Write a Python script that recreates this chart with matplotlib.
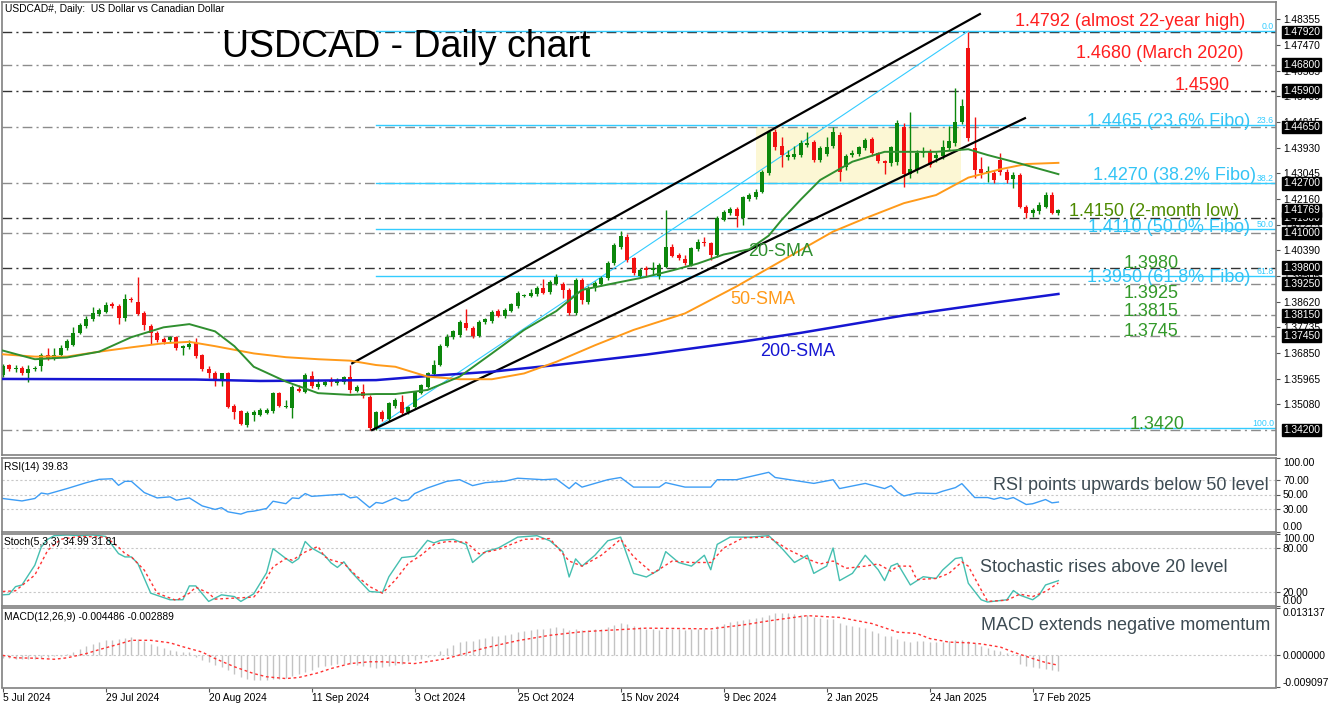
import numpy as np
import matplotlib
matplotlib.use("Agg")
import matplotlib.pyplot as plt

plt.rcParams['font.family'] = ['Liberation Sans', 'DejaVu Sans']

# ---- daily candles, 5 Jul 2024 .. 21 Feb 2025 (bar index = trading day) ----
opens = [
    1.3610, 1.3643, 1.3629, 1.3635, 1.3616, 1.3630, 1.3640, 1.3680, 1.3666, 1.3678,
    1.3701, 1.3712, 1.3755, 1.3777, 1.3801, 1.3819, 1.3827, 1.3853, 1.3847, 1.3805,
    1.3873, 1.3862, 1.3822, 1.3779, 1.3755, 1.3732, 1.3730, 1.3739, 1.3701, 1.3707,
    1.3721, 1.3678, 1.3632, 1.3617, 1.3594, 1.3615, 1.3502, 1.3486, 1.3436, 1.3473,
    1.3473, 1.3479, 1.3485, 1.3546, 1.3500, 1.3497, 1.3561, 1.3552, 1.3606, 1.3567,
    1.3575, 1.3592, 1.3581, 1.3586, 1.3601, 1.3555, 1.3552, 1.3535, 1.3426, 1.3481,
    1.3458, 1.3502, 1.3518, 1.3483, 1.3498, 1.3548, 1.3569, 1.3613, 1.3644, 1.3710,
    1.3740, 1.3747, 1.3790, 1.3773, 1.3744, 1.3793, 1.3795, 1.3830, 1.3812, 1.3831,
    1.3847, 1.3882, 1.3882, 1.3888, 1.3910, 1.3897, 1.3925, 1.3925, 1.3902, 1.3822,
    1.3937, 1.3862, 1.3908, 1.3922, 1.3943, 1.3994, 1.4052, 1.4086, 1.4012, 1.3951,
    1.3977, 1.3971, 1.3951, 1.3983, 1.4050, 1.4023, 1.4009, 1.3989, 1.4043, 1.4069,
    1.4063, 1.4023, 1.4144, 1.4167, 1.4181, 1.4150, 1.4215, 1.4224, 1.4241, 1.4307,
    1.4448, 1.4399, 1.4362, 1.4362, 1.4368, 1.4402, 1.4414, 1.4351, 1.4372, 1.4399,
    1.4437, 1.4325, 1.4368, 1.4372, 1.4391, 1.4422, 1.4374, 1.4348, 1.4339, 1.4345,
    1.4463, 1.4303, 1.4316, 1.4374, 1.4380, 1.4356, 1.4364, 1.4391, 1.4408, 1.4483,
    1.4736, 1.4391, 1.4319, 1.4305, 1.4305, 1.4351, 1.4311, 1.4285, 1.4299, 1.4190,
    1.4167, 1.4176, 1.4190, 1.4230, 1.4169]
highs = [
    1.3648, 1.3647, 1.3644, 1.3640, 1.3644, 1.3640, 1.3686, 1.3704, 1.3701, 1.3712,
    1.3735, 1.3775, 1.3790, 1.3812, 1.3844, 1.3842, 1.3862, 1.3860, 1.3853, 1.3888,
    1.3880, 1.3946, 1.3830, 1.3784, 1.3760, 1.3740, 1.3745, 1.3745, 1.3714, 1.3730,
    1.3736, 1.3682, 1.3640, 1.3622, 1.3618, 1.3620, 1.3510, 1.3490, 1.3484, 1.3490,
    1.3497, 1.3497, 1.3552, 1.3552, 1.3525, 1.3575, 1.3575, 1.3615, 1.3625, 1.3596,
    1.3592, 1.3603, 1.3600, 1.3606, 1.3644, 1.3575, 1.3578, 1.3540, 1.3486, 1.3490,
    1.3516, 1.3530, 1.3540, 1.3503, 1.3555, 1.3580, 1.3620, 1.3660, 1.3715, 1.3752,
    1.3766, 1.3800, 1.3836, 1.3780, 1.3798, 1.3806, 1.3834, 1.3838, 1.3840, 1.3858,
    1.3899, 1.3890, 1.3906, 1.3916, 1.3939, 1.3936, 1.3958, 1.3930, 1.3908, 1.3945,
    1.3945, 1.3915, 1.3932, 1.3950, 1.4003, 1.4065, 1.4106, 1.4095, 1.4018, 1.3978,
    1.3985, 1.4000, 1.3995, 1.4178, 1.4060, 1.4030, 1.4025, 1.4052, 1.4080, 1.4085,
    1.4068, 1.4158, 1.4180, 1.4188, 1.4190, 1.4228, 1.4238, 1.4250, 1.4318, 1.4455,
    1.4456, 1.4430, 1.4385, 1.4400, 1.4420, 1.4448, 1.4420, 1.4400, 1.4430, 1.4466,
    1.4447, 1.4370, 1.4385, 1.4400, 1.4428, 1.4430, 1.4380, 1.4352, 1.4400, 1.4490,
    1.4480, 1.4517, 1.4385, 1.4395, 1.4388, 1.4380, 1.4420, 1.4468, 1.4598, 1.4560,
    1.4793, 1.4500, 1.4360, 1.4330, 1.4315, 1.4375, 1.4320, 1.4310, 1.4305, 1.4195,
    1.4185, 1.4205, 1.4240, 1.4240, 1.4182]
lows = [
    1.3604, 1.3622, 1.3620, 1.3609, 1.3587, 1.3622, 1.3623, 1.3661, 1.3660, 1.3672,
    1.3697, 1.3708, 1.3750, 1.3772, 1.3797, 1.3812, 1.3822, 1.3840, 1.3784, 1.3796,
    1.3862, 1.3815, 1.3765, 1.3718, 1.3722, 1.3715, 1.3722, 1.3695, 1.3680, 1.3700,
    1.3668, 1.3622, 1.3598, 1.3571, 1.3571, 1.3495, 1.3457, 1.3437, 1.3432, 1.3452,
    1.3468, 1.3475, 1.3480, 1.3498, 1.3496, 1.3461, 1.3552, 1.3546, 1.3565, 1.3561,
    1.3570, 1.3570, 1.3575, 1.3580, 1.3546, 1.3550, 1.3530, 1.3420, 1.3421, 1.3452,
    1.3450, 1.3497, 1.3470, 1.3475, 1.3493, 1.3543, 1.3565, 1.3608, 1.3640, 1.3705,
    1.3733, 1.3742, 1.3765, 1.3738, 1.3740, 1.3785, 1.3790, 1.3808, 1.3806, 1.3826,
    1.3842, 1.3877, 1.3878, 1.3883, 1.3888, 1.3890, 1.3920, 1.3874, 1.3815, 1.3815,
    1.3855, 1.3855, 1.3900, 1.3915, 1.3938, 1.3988, 1.4045, 1.4000, 1.3955, 1.3945,
    1.3950, 1.3955, 1.3940, 1.3978, 1.4015, 1.4005, 1.3990, 1.3985, 1.4038, 1.4055,
    1.4005, 1.4018, 1.4140, 1.4160, 1.4121, 1.4127, 1.4208, 1.4218, 1.4236, 1.4300,
    1.4385, 1.4325, 1.4350, 1.4355, 1.4362, 1.4395, 1.4345, 1.4345, 1.4365, 1.4392,
    1.4279, 1.4318, 1.4360, 1.4365, 1.4385, 1.4365, 1.4340, 1.4303, 1.4330, 1.4335,
    1.4259, 1.4290, 1.4305, 1.4360, 1.4325, 1.4345, 1.4355, 1.4385, 1.4400, 1.4475,
    1.4415, 1.4290, 1.4290, 1.4275, 1.4270, 1.4300, 1.4270, 1.4253, 1.4185, 1.4150,
    1.4155, 1.4165, 1.4185, 1.4165, 1.4160]
closes = [
    1.3641, 1.3629, 1.3635, 1.3616, 1.3631, 1.3633, 1.3680, 1.3666, 1.3680, 1.3703,
    1.3726, 1.3756, 1.3781, 1.3804, 1.3822, 1.3835, 1.3850, 1.3847, 1.3805, 1.3870,
    1.3867, 1.3820, 1.3782, 1.3756, 1.3730, 1.3724, 1.3739, 1.3701, 1.3709, 1.3718,
    1.3674, 1.3629, 1.3615, 1.3594, 1.3615, 1.3500, 1.3483, 1.3439, 1.3479, 1.3483,
    1.3488, 1.3488, 1.3546, 1.3503, 1.3503, 1.3569, 1.3555, 1.3610, 1.3571, 1.3578,
    1.3586, 1.3584, 1.3594, 1.3601, 1.3558, 1.3569, 1.3537, 1.3426, 1.3481, 1.3458,
    1.3512, 1.3523, 1.3480, 1.3498, 1.3550, 1.3575, 1.3615, 1.3644, 1.3710, 1.3740,
    1.3761, 1.3793, 1.3771, 1.3744, 1.3793, 1.3801, 1.3828, 1.3814, 1.3834, 1.3853,
    1.3893, 1.3885, 1.3891, 1.3910, 1.3894, 1.3931, 1.3948, 1.3902, 1.3822, 1.3937,
    1.3868, 1.3908, 1.3926, 1.3943, 1.3997, 1.4058, 1.4089, 1.4006, 1.3960, 1.3971,
    1.3971, 1.3979, 1.3989, 1.4052, 1.4020, 1.4012, 1.3996, 1.4046, 1.4069, 1.4064,
    1.4023, 1.4150, 1.4173, 1.4181, 1.4158, 1.4222, 1.4230, 1.4241, 1.4310, 1.4448,
    1.4394, 1.4368, 1.4368, 1.4370, 1.4408, 1.4410, 1.4351, 1.4391, 1.4394, 1.4448,
    1.4310, 1.4365, 1.4376, 1.4394, 1.4420, 1.4374, 1.4348, 1.4339, 1.4394, 1.4477,
    1.4303, 1.4319, 1.4374, 1.4380, 1.4333, 1.4367, 1.4396, 1.4417, 1.4483, 1.4537,
    1.4425, 1.4316, 1.4305, 1.4312, 1.4282, 1.4311, 1.4282, 1.4300, 1.4190, 1.4167,
    1.4178, 1.4196, 1.4230, 1.4169, 1.4177]

# moving averages (bar, price)
sma20 = [(0, 1.3694), (5, 1.3664), (10, 1.3670), (15, 1.3690), (20, 1.3740), (25, 1.3774),
         (29, 1.3785), (33, 1.3760), (36, 1.3709), (39, 1.3638), (44, 1.3587), (49, 1.3547),
         (54, 1.3541), (58, 1.3544), (61, 1.3544), (66, 1.3558), (71, 1.3604), (76, 1.3684),
         (81, 1.3765), (86, 1.3830), (90, 1.3903), (95, 1.3926), (100, 1.3948), (104, 1.3970),
         (108, 1.3994), (112, 1.4025), (116, 1.4043), (119, 1.4090), (121, 1.4144),
         (124, 1.4215), (127, 1.4282), (132, 1.4345), (137, 1.4379), (145, 1.4379),
         (150, 1.4388), (153, 1.4368), (158, 1.4339), (164, 1.4302)]
sma50 = [(0, 1.3681), (5, 1.3673), (10, 1.3673), (15, 1.3690), (20, 1.3705), (25, 1.3719),
         (29, 1.3724), (33, 1.3709), (39, 1.3684), (44, 1.3671), (49, 1.3664), (54, 1.3659),
         (58, 1.3644), (61, 1.3638), (66, 1.3604), (71, 1.3595), (76, 1.3595), (81, 1.3615),
         (86, 1.3655), (92, 1.3712), (98, 1.3765), (106, 1.3822), (114, 1.3915),
         (129, 1.4104), (134, 1.4150), (140, 1.4202), (145, 1.4230), (150, 1.4290),
         (155, 1.4319), (159, 1.4337), (164, 1.4341)]
sma200 = [(0, 1.3596), (30, 1.3594), (40, 1.3589), (58, 1.3592), (66, 1.3606), (76, 1.3621),
          (86, 1.3644), (100, 1.3680), (115, 1.3725), (124, 1.3755), (140, 1.3815),
          (155, 1.3862), (164, 1.3889)]

# key levels (gray dash-dot lines, boxed on the price scale)
levels = [1.4792, 1.4680, 1.4590, 1.4465, 1.4270, 1.4150, 1.4100, 1.3980, 1.3925,
          1.3815, 1.3745, 1.3420]
dark_levels = [1.4792, 1.4590, 1.4150, 1.3980]
last_price = 1.41769
price_ticks = [1.48355, 1.47470, 1.46585, 1.45700, 1.44815, 1.43930, 1.43045, 1.42160,
               1.41275, 1.40390, 1.39505, 1.38620, 1.37735, 1.36850, 1.35965, 1.35080]

# fibonacci swing (low bar, low) -> (high bar, high)
fib_low = (58, 1.3428)
fib_high = (150, 1.4795)
fib_ratios = [0.0, 23.6, 38.2, 50.0, 61.8, 100.0]

# channel lines and consolidation box (bar, price)
chan_upper = [(54.3, 1.3650), (151.8, 1.4854)]
chan_lower = [(57.4, 1.3420), (158.8, 1.4495)]
box_bars = (117.0, 148.9)
box_prices = (1.4270, 1.4465)

# indicators (bar, value)
rsi = [(0, 44.6), (3, 41.3), (5, 44.6), (6, 52), (7, 50.6), (10, 58), (13, 66), (15, 70.5),
       (17, 71.3), (18, 62.4), (19, 67.8), (20, 67.8), (22, 52.6), (24, 45.4), (26, 46.8),
       (27, 42.3), (29, 45.4), (31, 34.6), (33, 29.8), (34, 32.2), (35, 26.6), (37, 23.5),
       (38, 26.6), (39, 27.5), (41, 31.1), (42, 40.9), (44, 37.6), (45, 45.4), (46, 44.6),
       (47, 51.3), (48, 47.5), (51, 49.3), (53, 50.5), (54, 45.4), (55, 46.8), (57, 32.4),
       (58, 39.2), (59, 38), (61, 45.4), (62, 41.3), (63, 42.8), (64, 51.3), (66, 58.8),
       (69, 67.8), (71, 70), (73, 62), (75, 66), (78, 68), (80, 72), (84, 70), (86, 71),
       (88, 58), (89, 66), (90, 60), (94, 70), (96, 73), (98, 60), (102, 60), (103, 66),
       (106, 60), (110, 60), (111, 70), (114, 70), (119, 80), (120, 73), (126, 65),
       (129, 70), (130, 58), (134, 65), (137, 58), (138, 62), (139, 53.4), (140, 48),
       (142, 52), (145, 51.3), (146, 54.4), (148, 59.3), (149, 64.7), (151, 45.9),
       (153, 45.9), (154, 43.6), (155, 45.9), (156, 43.6), (157, 45.9), (159, 36.5),
       (160, 37.5), (162, 43.2), (163, 38.7), (164, 39.8)]
stoch_k = [(0, 15.4), (1, 16), (2, 26.7), (3, 29), (4, 42.7), (5, 56.3), (6, 81.3), (7, 92),
           (8, 97), (10, 98), (12, 97), (14, 98), (16, 96), (18, 72.3), (19, 67.7), (20, 67.7),
           (21, 58.7), (23, 17.7), (26, 8.6), (28, 8.6), (29, 27.7), (30, 27.7), (32, 6.3),
           (34, 15.4), (36, 13), (37, 6.3), (39, 16.8), (41, 45.8), (42, 79.1), (44, 65.5),
           (45, 59.5), (46, 65.5), (47, 89), (48, 80), (50, 70), (51, 59.5), (52, 53.2),
           (53, 61), (54, 48.6), (57, 20), (59, 18.6), (60, 40.4), (62, 66.8), (64, 68.7),
           (66, 90.5), (67, 87), (68, 90.5), (70, 92), (72, 85), (73, 60), (75, 75), (77, 80),
           (80, 95), (83, 97), (85, 90), (87, 75), (88, 40), (89, 65), (90, 55), (92, 70),
           (94, 90), (96, 95), (97, 70), (98, 45), (100, 40), (102, 50), (103, 75), (105, 60),
           (107, 55), (109, 70), (110, 50), (111, 85), (113, 95), (116, 95), (119, 97),
           (121, 80), (123, 60), (125, 70), (126, 45), (128, 55), (129, 80), (130, 35),
           (132, 45), (134, 70), (136, 50), (137, 35), (138, 55), (139, 58.7), (141, 29),
           (143, 40.4), (145, 38), (146, 49.5), (148, 65.5), (149, 67), (150, 31.4),
           (152, 8.6), (153, 5.5), (156, 8.6), (157, 21.3), (158, 15), (160, 8.6),
           (161, 15), (162, 29), (164, 34.99)]
stoch_d = [(0, 20), (2, 21), (5, 42.7), (7, 76.8), (9, 92), (12, 96), (16, 95), (18, 81.3),
           (19, 72.3), (20, 67.7), (22, 49.5), (24, 17.7), (27, 7.6), (29, 17.7), (30, 25.9),
           (32, 17.7), (33, 9.5), (36, 10.9), (39, 12.3), (40, 22.3), (42, 54), (44, 65.5),
           (45, 63.2), (47, 74.5), (49, 82.2), (50, 68.2), (51, 63.6), (53, 58.7), (55, 41.3),
           (57, 26.8), (59, 17.7), (61, 35.8), (63, 58.7), (65, 70), (67, 85), (69, 89),
           (72, 88), (74, 72), (77, 78), (81, 92), (85, 93), (88, 62), (90, 55), (93, 70),
           (96, 92), (98, 68), (101, 45), (104, 62), (107, 60), (110, 60), (112, 80),
           (115, 94), (119, 95), (122, 78), (125, 65), (127, 58), (129, 62), (131, 52),
           (134, 55), (136, 58), (138, 48), (139, 55), (141, 55), (142, 36.4), (145, 38),
           (147, 45), (149, 60.8), (150, 55), (152, 22.3), (153, 6.4), (156, 8), (158, 16.3),
           (160, 13), (162, 20), (164, 31.81)]
macd_main = [
    -0.0008, -0.0009, -0.0010, -0.0010, -0.0011, -0.0010, -0.0008, -0.0006, -0.0004, -0.0002,
    0.0002, 0.0008, 0.0016, 0.0024, 0.0030, 0.0036, 0.0041, 0.0043, 0.0046, 0.0048,
    0.0049, 0.0044, 0.0038, 0.0031, 0.0025, 0.0020, 0.0014, 0.0011, 0.0009, 0.0007,
    -0.0005, -0.0014, -0.0020, -0.0027, -0.0033, -0.0043, -0.0053, -0.0063, -0.0068, -0.0070,
    -0.0071, -0.0070, -0.0068, -0.0066, -0.0064, -0.0060, -0.0054, -0.0048, -0.0041, -0.0034,
    -0.0030, -0.0028, -0.0026, -0.0025, -0.0024, -0.0027, -0.0031, -0.0035, -0.0036, -0.0034,
    -0.0031, -0.0028, -0.0024, -0.0017, -0.0013, -0.0010, -0.0007, -0.0002, 0.0010, 0.0020,
    0.0028, 0.0036, 0.0040, 0.0040, 0.0045, 0.0048, 0.0052, 0.0054, 0.0057, 0.0060,
    0.0065, 0.0068, 0.0071, 0.0073, 0.0074, 0.0076, 0.0078, 0.0076, 0.0070, 0.0072,
    0.0070, 0.0071, 0.0072, 0.0074, 0.0078, 0.0084, 0.0089, 0.0086, 0.0080, 0.0077,
    0.0074, 0.0072, 0.0071, 0.0074, 0.0074, 0.0073, 0.0071, 0.0072, 0.0073, 0.0073,
    0.0071, 0.0080, 0.0086, 0.0091, 0.0094, 0.0098, 0.0101, 0.0104, 0.0107, 0.0112,
    0.0117, 0.0118, 0.0117, 0.0115, 0.0113, 0.0111, 0.0107, 0.0104, 0.0101, 0.0100,
    0.0090, 0.0085, 0.0080, 0.0077, 0.0075, 0.0068, 0.0061, 0.0054, 0.0054, 0.0046,
    0.0038, 0.0037, 0.0038, 0.0039, 0.0036, 0.0035, 0.0036, 0.0038, 0.0042, 0.0043,
    0.0040, 0.0033, 0.0026, 0.0019, 0.0013, 0.0010, 0.0006, 0.0004, -0.0024, -0.0031,
    -0.0035, -0.0037, -0.0039, -0.0042, -0.004486]
macd_signal = [(0, -0.0001), (2, -0.0008), (5, -0.0009), (8, -0.0012), (10, -0.0008),
               (13, 0.0004), (15, 0.0015), (18, 0.0030), (20, 0.0041), (23, 0.0041),
               (26, 0.0034), (28, 0.0023), (31, 0.0008), (33, -0.0010), (36, -0.0033),
               (39, -0.0052), (41, -0.0061), (44, -0.0066), (46, -0.0063), (49, -0.0050),
               (51, -0.0038), (54, -0.0024), (57, -0.0019), (59, -0.0019), (62, -0.0022),
               (64, -0.0024), (67, -0.0016), (69, -0.0010), (72, 0.0005), (75, 0.0020),
               (80, 0.0040), (85, 0.0055), (90, 0.0065), (95, 0.0070), (100, 0.0075),
               (105, 0.0074), (110, 0.0073), (115, 0.0084), (120, 0.0098), (125, 0.0110),
               (130, 0.0105), (135, 0.0088), (139, 0.0064), (142, 0.0060), (144, 0.0046),
               (147, 0.0036), (150, 0.0034), (152, 0.0031), (155, 0.0022), (157, 0.0008),
               (160, -0.0010), (162, -0.0021), (164, -0.002889)]

date_bars = [0, 16, 32, 48, 64, 80, 96, 112, 128, 144, 160]
date_labels = ["5 Jul 2024", "29 Jul 2024", "20 Aug 2024", "11 Sep 2024", "3 Oct 2024",
               "25 Oct 2024", "15 Nov 2024", "9 Dec 2024", "2 Jan 2025", "24 Jan 2025",
               "17 Feb 2025"]

# ---------------------------------------------------------------------------
W, H = 1332, 706
fig = plt.figure(figsize=(W / 100, H / 100), dpi=100)


def box(x0, y0, x1, y1):
    return [x0 / W, 1 - y1 / H, (x1 - x0) / W, (y1 - y0) / H]


def ftxt(x, y, s, **kw):
    kw.setdefault('va', 'center')
    fig.text(x / W, 1 - y / H, s, **kw)


GREEN = '#0c870c'
RED = '#f21111'
FRAME = '#808080'
XLIM = (-0.1, 197.8)

ax = fig.add_axes(box(2, 2, 1276, 455))
ax_rsi = fig.add_axes(box(2, 457.5, 1276, 531.5))
ax_st = fig.add_axes(box(2, 533.5, 1276, 606))
ax_md = fig.add_axes(box(2, 608, 1276, 687.5))

for a in (ax, ax_rsi, ax_st, ax_md):
    a.set_xlim(*XLIM)
    for sp in a.spines.values():
        sp.set_color(FRAME)
        sp.set_linewidth(1.2)
    a.yaxis.tick_right()
    a.tick_params(axis='y', direction='out', length=3, width=0.8, color='#555555',
                  labelsize=7.4, pad=2, labelcolor='black')
    a.tick_params(axis='x', bottom=False, labelbottom=False)

# ---- main price panel ----
ax.set_ylim(1.33338, 1.48955)

ax.add_patch(plt.Rectangle((box_bars[0], box_prices[0]), box_bars[1] - box_bars[0],
                           box_prices[1] - box_prices[0], facecolor='#fcf7d4',
                           edgecolor='none', zorder=0))

for lv in levels:
    ax.axhline(lv, color='#333333' if lv in dark_levels else '#8c8c8c', lw=1,
               linestyle=(0, (7, 3, 1.5, 3)), zorder=1)

fib_span = fib_high[1] - fib_low[1]
for r in fib_ratios:
    p = fib_high[1] - r / 100 * fib_span
    ax.plot([fib_low[0], XLIM[1]], [p, p], color='#33ccff', lw=1, zorder=1.5)
    ax.text(XLIM[1] - 0.3, p, f"{r:.1f}", color='#33ccff', fontsize=6.3,
            ha='right', va='bottom', zorder=5)
ax.plot([fib_low[0], fib_high[0]], [fib_low[1], fib_high[1]], color='#33ccff', lw=0.8,
        zorder=1.5)

for ln in (chan_upper, chan_lower):
    xs, ys = zip(*ln)
    ax.plot(xs, ys, color='black', lw=1.6, zorder=3)

idx = np.arange(len(opens))
o = np.array(opens)
c = np.array(closes)
col = np.where(c >= o, GREEN, RED)
ax.vlines(idx, lows, highs, colors=col, lw=1, zorder=2)
ax.bar(idx, np.maximum(np.abs(c - o), 0.00012), bottom=np.minimum(o, c), width=0.62,
       color=col, linewidth=0, zorder=2.5)

for pts, colr, lw in ((sma200, '#1616d2', 1.8), (sma50, '#ff9a1a', 1.4),
                      (sma20, '#2f8f2f', 1.4)):
    xs, ys = zip(*pts)
    ax.plot(xs, ys, color=colr, lw=lw, zorder=4)

ax.set_yticks(price_ticks)
ax.set_yticklabels([f"{v:.5f}" for v in price_ticks])
for lv in levels + [last_price]:
    ax.annotate(f"{lv:.5f}", xy=(1, lv), xycoords=('axes fraction', 'data'),
                xytext=(5, 0), textcoords='offset points', ha='left', va='center',
                fontsize=7.4, color='white', annotation_clip=False, zorder=10,
                bbox=dict(boxstyle='square,pad=0.12', fc='black', ec='black'))

# ---- RSI ----
ax_rsi.set_ylim(0, 100)
for g in (70, 50, 30):
    ax_rsi.axhline(g, color='#c8c8c8', lw=0.8, linestyle=(0, (2, 2)))
xs, ys = zip(*rsi)
ax_rsi.plot(xs, ys, color='#3d9df5', lw=1)
ax_rsi.set_yticks([100, 70, 50, 30, 0])
ax_rsi.set_yticklabels(["100.00", "70.00", "50.00", "30.00", "0.00"])

# ---- Stochastic ----
ax_st.set_ylim(0, 100)
for g in (80, 20):
    ax_st.axhline(g, color='#c8c8c8', lw=0.8, linestyle=(0, (2, 2)))
xs, ys = zip(*stoch_k)
ax_st.plot(xs, ys, color='#45bfb0', lw=1)
xs, ys = zip(*stoch_d)
ax_st.plot(xs, ys, color='#ff3333', lw=1, linestyle=(0, (2, 2)))
ax_st.set_yticks([100, 80, 20, 0])
ax_st.set_yticklabels(["100.00", "80.00", "20.00", "0.00"])

# ---- MACD ----
ax_md.set_ylim(-0.009097, 0.013137)
ax_md.axhline(0, color='#c8c8c8', lw=0.8, linestyle=(0, (2, 2)))
ax_md.vlines(np.arange(len(macd_main)), 0, macd_main, colors='#c3c3c3', lw=1)
xs, ys = zip(*macd_signal)
ax_md.plot(xs, ys, color='#ff3333', lw=1, linestyle=(0, (2, 2)))
ax_md.set_yticks([0.013137, 0.0, -0.009097])
ax_md.set_yticklabels(["0.013137", "0.000000", "-0.009097"])

for a in (ax_rsi, ax_st, ax_md):
    labs = a.get_yticklabels()
    labs[0].set_va('top')
    labs[-1].set_va('bottom')

ax_md.set_xticks(date_bars)
ax_md.set_xticklabels(date_labels, ha='left')
ax_md.tick_params(axis='x', bottom=True, labelbottom=True, direction='out', length=3,
                  width=0.8, color='#555555', labelsize=7.4, pad=1)

# ---- texts ----
ftxt(5, 9, "USDCAD#, Daily:  US Dollar vs Canadian Dollar", fontsize=7.4)
ftxt(222, 47, "USDCAD - Daily chart", fontsize=27)

red = '#ff1f1f'
blue = '#33c4f5'
grn = '#33992a'
ftxt(1245, 21, "1.4792 (almost 22-year high)", fontsize=13, color=red, ha='right')
ftxt(1243, 53, "1.4680 (March 2020)", fontsize=13, color=red, ha='right')
ftxt(1230, 86, "1.4590", fontsize=13, color=red, ha='right')
ftxt(1250, 122, "1.4465 (23.6% Fibo)", fontsize=13, color=blue, ha='right')
ftxt(1256, 176, "1.4270 (38.2% Fibo)", fontsize=13, color=blue, ha='right')
ftxt(1239, 212, "1.4150 (2-month low)", fontsize=13, color='#4d8a00', ha='right')
ftxt(1250, 227, "1.4110 (50.0% Fibo)", fontsize=13, color=blue, ha='right')
ftxt(1151, 264, "1.3980", fontsize=13, color=grn, ha='center')
ftxt(1250, 278, "1.3950 (61.8% Fibo)", fontsize=13, color=blue, ha='right')
ftxt(1151, 293, "1.3925", fontsize=13, color=grn, ha='center')
ftxt(1151, 312, "1.3815", fontsize=13, color=grn, ha='center')
ftxt(1151, 331, "1.3745", fontsize=13, color=grn, ha='center')
ftxt(1157, 424, "1.3420", fontsize=13, color=grn, ha='center')

ftxt(748, 252, "20-SMA", fontsize=13, color='#2f8f2f')
ftxt(730, 300, "50-SMA", fontsize=13, color='#ff9a1a')
ftxt(760, 352, "200-SMA", fontsize=13, color='#1616d2')

ftxt(4, 467, "RSI(14) 39.83", fontsize=7.4)
ftxt(4, 542, "Stoch(5,3,3) 34.99 31.81", fontsize=7.4)
ftxt(4, 617, "MACD(12,26,9) -0.004486 -0.002889", fontsize=7.4)

note = '#3d4b53'
ftxt(993, 485, "RSI points upwards below 50 level", fontsize=13, color=note)
ftxt(980, 568, "Stochastic rises above 20 level", fontsize=13, color=note)
ftxt(981, 625, "MACD extends negative momentum", fontsize=13, color=note)

fig.savefig("out.png", dpi=100)
